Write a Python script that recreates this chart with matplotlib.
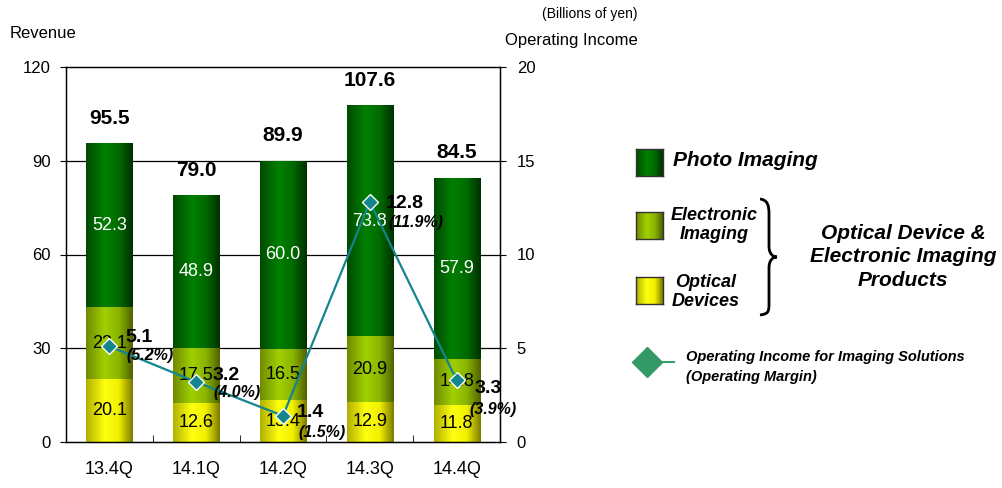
import matplotlib
matplotlib.use("Agg")
import matplotlib.pyplot as plt
import numpy as np
from matplotlib.colors import LinearSegmentedColormap
from matplotlib.path import Path
from matplotlib.patches import PathPatch
from matplotlib.lines import Line2D

plt.rcParams["font.family"] = ["Liberation Sans", "DejaVu Sans"]

# quarterly revenue by segment (billions of yen)
quarters = ["13.4Q", "14.1Q", "14.2Q", "14.3Q", "14.4Q"]
optical_devices = [20.1, 12.6, 13.4, 12.9, 11.8]
electronic_imaging = [23.1, 17.5, 16.5, 20.9, 14.8]
photo_imaging = [52.3, 48.9, 60.0, 73.8, 57.9]
revenue_total = [95.5, 79.0, 89.9, 107.6, 84.5]
# operating income for imaging solutions and its margin
op_income = [5.1, 3.2, 1.4, 12.8, 3.3]
op_margin = [5.2, 4.0, 1.5, 11.9, 3.9]

W, H = 1002, 488
fig = plt.figure(figsize=(W / 100, H / 100), dpi=100)
ax = fig.add_axes([66 / W, 1 - 442 / H, 434 / W, 375 / H])

# horizontal shading: dark edges, bright just left of centre
grads = {
    "photo": LinearSegmentedColormap.from_list(
        "photo", [(0, "#004a00"), (0.4, "#008000"), (0.7, "#006a00"), (1, "#003000")]),
    "elec": LinearSegmentedColormap.from_list(
        "elec", [(0, "#6f8a00"), (0.4, "#a0d000"), (0.7, "#8ab400"), (1, "#4f6200")]),
    "opt": LinearSegmentedColormap.from_list(
        "opt", [(0, "#b0b000"), (0.4, "#ffff10"), (0.7, "#f0f000"), (1, "#7a7a00")]),
}
ramp = np.linspace(0, 1, 256).reshape(1, -1)

x = np.arange(len(quarters))
bw = 0.53

for yv in (30, 60, 90):
    ax.axhline(yv, color="black", lw=0.9, zorder=1)

segments = [(optical_devices, "opt", "black"),
            (electronic_imaging, "elec", "black"),
            (photo_imaging, "photo", "white")]
bottom = np.zeros(len(quarters))
for vals, key, tcol in segments:
    for i, v in enumerate(vals):
        ax.imshow(ramp, cmap=grads[key], aspect="auto", zorder=2,
                  extent=[x[i] - bw / 2, x[i] + bw / 2, bottom[i], bottom[i] + v])
        ax.text(x[i], bottom[i] + v / 2, f"{v:.1f}", ha="center", va="center",
                fontsize=13, color=tcol, zorder=3)
    bottom += np.array(vals)

for i, t in enumerate(revenue_total):
    ax.text(x[i], t + 5.0, f"{t:.1f}", ha="center", va="bottom",
            fontsize=15, fontweight="bold", zorder=3)

ax.set_xlim(-0.5, len(quarters) - 0.5)
ax.set_ylim(0, 120)
ax.set_yticks([0, 30, 60, 90, 120])
ax.set_xticks(x)
ax.set_xticklabels(quarters, fontsize=13)
ax.set_xticks(np.arange(0.5, len(quarters) - 1), minor=True)
ax.tick_params(axis="x", which="major", length=0, pad=14)
ax.tick_params(axis="x", which="minor", direction="in", length=5)
ax.tick_params(axis="y", labelsize=12, direction="out", length=4, pad=7)
for s in ax.spines.values():
    s.set_linewidth(1.0)

ax2 = ax.twinx()
ax2.set_ylim(0, 20)
ax2.set_yticks([0, 5, 10, 15, 20])
ax2.tick_params(axis="y", labelsize=12, direction="out", length=4, pad=8)
ax2.plot(x, op_income, color="#13858c", lw=1.6, marker="D", markersize=8,
         markerfacecolor="#13858c", markeredgecolor="white", markeredgewidth=1.0,
         zorder=5)

# label offsets in pixels: (value dx, dy), (margin dx, dy)
offs = [((16, 9), (17, -9)), ((16, 7), (17, -11)), ((14, 3), (15, -17)),
        ((16, -1), (19, -20)), ((18, -8), (13, -29))]
for i, (v, m) in enumerate(zip(op_income, op_margin)):
    (vx, vy), (mx, my) = offs[i]
    ax2.annotate(f"{v:.1f}", (x[i], v), xytext=(vx, vy), textcoords="offset pixels",
                 ha="left", va="center", fontsize=14, fontweight="bold", zorder=6)
    ax2.annotate(f"({m:.1f}%)", (x[i], v), xytext=(mx, my), textcoords="offset pixels",
                 ha="left", va="center", fontsize=11.5, fontweight="bold",
                 fontstyle="italic", zorder=6)

# axis captions
fig.text(10 / W, 1 - 33 / H, "Revenue", fontsize=12, va="center")
fig.text(638 / W, 1 - 14 / H, "(Billions of yen)", fontsize=10, ha="right", va="center")
fig.text(638 / W, 1 - 40 / H, "Operating Income", fontsize=12, ha="right", va="center")


def fx(px):
    return px / W


def fy(py):
    return 1 - py / H


def swatch(x0, y0, key):
    sax = fig.add_axes([fx(x0), fy(y0 + 27), 27 / W, 27 / H])
    sax.imshow(ramp, cmap=grads[key], aspect="auto", extent=[0, 1, 0, 1])
    sax.set_xticks([])
    sax.set_yticks([])
    for s in sax.spines.values():
        s.set_color("#333333")
        s.set_linewidth(1.0)


swatch(636, 149, "photo")
swatch(636, 212, "elec")
swatch(636, 277, "opt")

bi = dict(fontweight="bold", fontstyle="italic")
fig.text(fx(673), fy(161), "Photo Imaging", fontsize=15, va="center", **bi)
fig.text(fx(714), fy(225), "Electronic\nImaging", fontsize=13, ha="center",
         va="center", linespacing=1.2, **bi)
fig.text(fx(706), fy(292), "Optical\nDevices", fontsize=13, ha="center",
         va="center", linespacing=1.2, **bi)
fig.text(fx(903), fy(257), "Optical Device &\nElectronic Imaging\nProducts",
         fontsize=15, ha="center", va="center", linespacing=1.3, **bi)

# curly brace grouping the two smaller segments
pts = [(760, 199), (768, 200), (769, 206), (769, 214),
       (769, 246),
       (769, 254), (773, 257), (777, 257),
       (773, 257), (769, 260), (769, 268),
       (769, 304),
       (769, 312), (768, 314), (760, 315)]
codes = [Path.MOVETO, Path.CURVE4, Path.CURVE4, Path.CURVE4,
         Path.LINETO,
         Path.CURVE4, Path.CURVE4, Path.CURVE4,
         Path.CURVE4, Path.CURVE4, Path.CURVE4,
         Path.LINETO,
         Path.CURVE4, Path.CURVE4, Path.CURVE4]
brace = Path([(fx(a), fy(b)) for a, b in pts], codes)
fig.add_artist(PathPatch(brace, transform=fig.transFigure, fill=False,
                         lw=2.0, edgecolor="black"))

# operating income legend entry
fig.add_artist(Line2D([fx(647), fx(674)], [fy(362), fy(362)], transform=fig.transFigure,
                      color="#33a070", lw=1.5))
fig.add_artist(Line2D([fx(647)], [fy(362)], transform=fig.transFigure, marker="D",
                      markersize=15, color="#339966", markeredgecolor="#339966"))
fig.text(fx(686), fy(357), "Operating Income for Imaging Solutions", fontsize=10.5,
         va="center", **bi)
fig.text(fx(686), fy(377), "(Operating Margin)", fontsize=10.5, va="center", **bi)

fig.savefig("out.png", dpi=100)
